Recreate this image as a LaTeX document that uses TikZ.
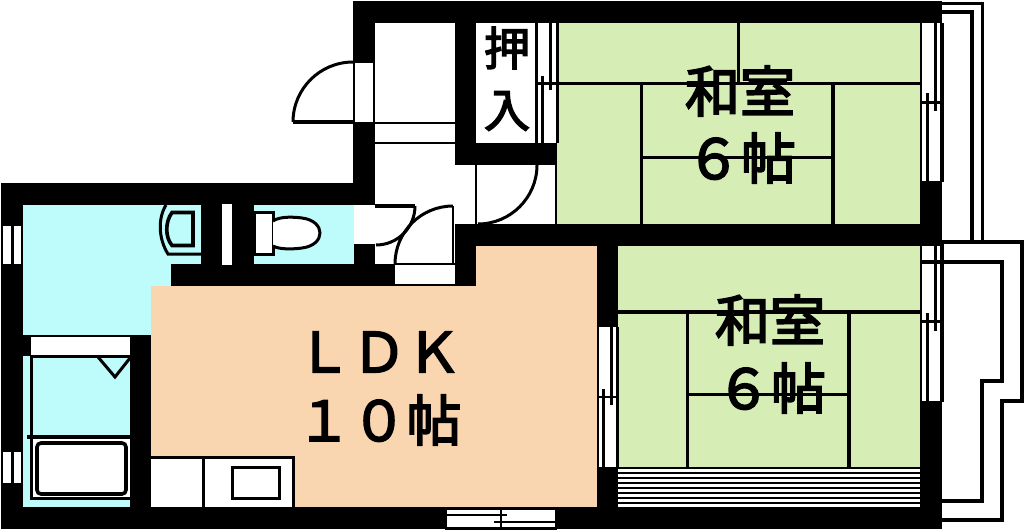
\documentclass[tikz,border=0pt]{standalone}
\usepackage{fontspec}
\newfontfamily\cjk[FakeBold=3.2]{Noto Sans CJK JP}
\definecolor{tatami}{RGB}{214,238,182}
\definecolor{ldk}{RGB}{249,214,176}
\definecolor{wet}{RGB}{190,252,252}
\tikzset{
  wall/.style={fill=black},
  gap/.style={fill=white},
  line/.style={draw=black,line width=3pt},
  thinline/.style={draw=black,line width=2.4pt},
  heavy/.style={draw=black,line width=3.6pt},
  stripe/.style={draw=black,line width=2.2pt},
  label/.style={font=\cjk\fontsize{55}{55}\selectfont,inner sep=0pt},
  closetlabel/.style={font=\cjk\fontsize{46}{46}\selectfont,inner sep=0pt}
}
\begin{document}
\begin{tikzpicture}[x=1pt,y=-1pt]
\useasboundingbox (0,0) rectangle (1024,530);
\fill[white] (0,0) rectangle (1024,530);
% rooms
\fill[tatami] (556,23) rectangle (920,224);
\fill[tatami] (618,246) rectangle (920,467);
\fill[wet] (23,205) rectangle (354,335);
\fill[wet] (23,335) rectangle (130,507);
\fill[ldk] (151,286) -- (476,286) -- (476,246) -- (597,246) -- (597,507) -- (151,507) -- cycle;
\fill[white] (151,457) rectangle (293,507);
\fill[white] (31,437) rectangle (130,498);
\fill[white] (476,165) rectangle (556,224);
% walls
\fill[wall] (353,1) rectangle (942,23);
\fill[wall] (353,1) rectangle (375,205);
\fill[wall] (1,183) rectangle (375,205);
\fill[wall] (1,183) rectangle (23,529);
\fill[wall] (1,507) rectangle (942,529);
\fill[wall] (455,23) rectangle (476,165);
\fill[wall] (455,143) rectangle (557,165);
\fill[wall] (455,224) rectangle (942,246);
\fill[wall] (455,224) rectangle (476,286);
\fill[wall] (920,1) rectangle (942,529);
\fill[wall] (597,246) rectangle (618,507);
\fill[wall] (201,205) rectangle (254,264);
\fill[wall] (171,264) rectangle (395,286);
\fill[wall] (354,244) rectangle (375,264);
\fill[wall] (23,335) rectangle (151,337);
\fill[wall] (23,335) rectangle (31,356);
\fill[wall] (130,335) rectangle (151,507);
% openings and windows
\fill[gap] (222,204) rectangle (232,265);
\fill[gap] (3,226) rectangle (11,264);
\fill[gap] (14,226) rectangle (21,264);
\fill[gap] (3,452) rectangle (11,483);
\fill[gap] (14,452) rectangle (21,483);
\fill[gap] (355,62) rectangle (374,122);
\fill[gap] (355,205) rectangle (373,244);
\fill[gap] (456,165) rectangle (474,224);
\fill[gap] (395,265) rectangle (453,285);
\fill[gap] (31,337) rectangle (130,356);
\fill[gap] (537,23) rectangle (556,143);
\fill[gap] (599,327) rectangle (617,467);
\fill[gap] (922,23) rectangle (941,181);
\fill[gap] (922,246) rectangle (941,401);
\fill[gap] (447,510) rectangle (555,527);
% entrance door
\draw[heavy] (353,122) -- (293,122);
\draw[line] (293,122) arc[start angle=180,end angle=270,radius=60];
\draw[thinline] (353,62) -- (375,62);
\draw[thinline] (374,62) -- (374,122);
% hall
\draw[thinline] (375,123) -- (455,123);
\draw[thinline] (375,143) -- (455,143);
% toilet door
\draw[heavy] (375,206) -- (415,206);
\draw[line] (415,206) arc[start angle=0,end angle=90,radius=39];
% ldk door
\draw[line] (395,264) arc[start angle=180,end angle=270,radius=58];
\draw[thinline] (453,206) -- (453,264);
\draw[thinline] (395,264) -- (455,264);
\draw[thinline] (395,285) -- (455,285);
% room door
\draw[line] (537,165) arc[start angle=0,end angle=90,radius=59];
\draw[thinline] (476,165) -- (476,224);
\draw[thinline] (556,165) -- (556,224);
% closet sliding doors
\draw[line] (536,23) -- (536,143);
\draw[line] (542,76) -- (542,143);
\draw[line] (550,23) -- (550,90);
\draw[line] (557,23) -- (557,143);
% tatami upper
\draw[line] (537,83) -- (920,83);
\draw[line] (738,23) -- (738,83);
\draw[line] (641,83) -- (641,224);
\draw[heavy] (833,83) -- (833,224);
\draw[line] (641,157) -- (833,157);
% tatami lower
\draw[heavy] (618,312) -- (920,312);
\draw[line] (687,312) -- (687,467);
\draw[heavy] (849,312) -- (849,467);
\draw[line] (687,394) -- (849,394);
% stripes under the tatami
\fill[white] (618,467) rectangle (920,507);
\foreach \y in {468,473,478,483,488,493,498,503}
  \draw[stripe] (618,\y) -- (920,\y);
% right windows
\draw[line] (927,93) -- (927,181);
\draw[line] (935,23) -- (935,111);
\draw[heavy] (942,23) -- (942,182);
\draw[line] (922,102) -- (942,102);
\draw[line] (935,243) -- (935,331);
\draw[line] (927,313) -- (927,401);
\draw[heavy] (942,243) -- (942,402);
\draw[line] (922,321) -- (942,321);
% middle window
\draw[line] (617,327) -- (617,467);
\draw[line] (603,389) -- (603,467);
\draw[line] (611,327) -- (611,405);
\draw[thinline] (599,397) -- (617,397);
% bottom window
\draw[thinline] (447,515) -- (507,515);
\draw[thinline] (494,522) -- (555,522);
\draw[thinline] (501,510) -- (501,527);
\draw[thinline] (445,529) -- (557,529);
% balcony upper
\draw[line] (941,3) -- (982,3) -- (982,242);
\draw[heavy] (941,12) -- (972,12) -- (972,242);
% balcony lower
\draw[heavy] (922,242) -- (1022,242) -- (1022,401) -- (1002,401) -- (1002,520) -- (941,520);
\draw[heavy] (922,262) -- (1002,262) -- (1002,381) -- (982,381) -- (982,501) -- (941,501);
% washroom
\draw[line] (166,205) .. controls (158,218) and (158,238) .. (168,254) -- (201,254);
\draw[heavy] (193,212.5) -- (172,212.5) .. controls (165,222) and (165,237) .. (172,245.5) -- (193,245.5) -- cycle;
% toilet
\draw[line,fill=white] (254,212) rectangle (273,254);
\draw[line,fill=white] (273,221) .. controls (280,216) and (295,217) .. (302,218) .. controls (326,221) and (326,245) .. (302,248) .. controls (295,249) and (280,250) .. (273,246);
% bath
\draw[line] (31,356) -- (130,356);
\draw[line] (31,356) -- (31,437);
\draw[line] (98,357) -- (115,377) -- (130,358);
\draw[heavy] (27,437) -- (130,437);
\draw[line] (31,437) -- (31,498) -- (130,498);
\draw[heavy,rounded corners=4pt] (37,443) rectangle (126,494);
% kitchen
\draw[line] (151,457) -- (293,457) -- (293,507);
\draw[line] (203,457) -- (203,507);
\draw[line] (232,467) rectangle (279,498);
% labels
\node[closetlabel] (oshi) at (507,48) {押};
\node[closetlabel] (iri) at (507,111) {入};
\node[label] (washitsuA) at (740,91) {和室};
\node[label] (jouA) at (741,158) {６帖};
\node[label] (washitsuB) at (770,320) {和室};
\node[label] (jouB) at (771,388) {６帖};
\node[label] (ldkname) at (379,352) {ＬＤＫ};
\node[label] (ldksize) at (379,420) {１０帖};
\end{tikzpicture}
\end{document}
